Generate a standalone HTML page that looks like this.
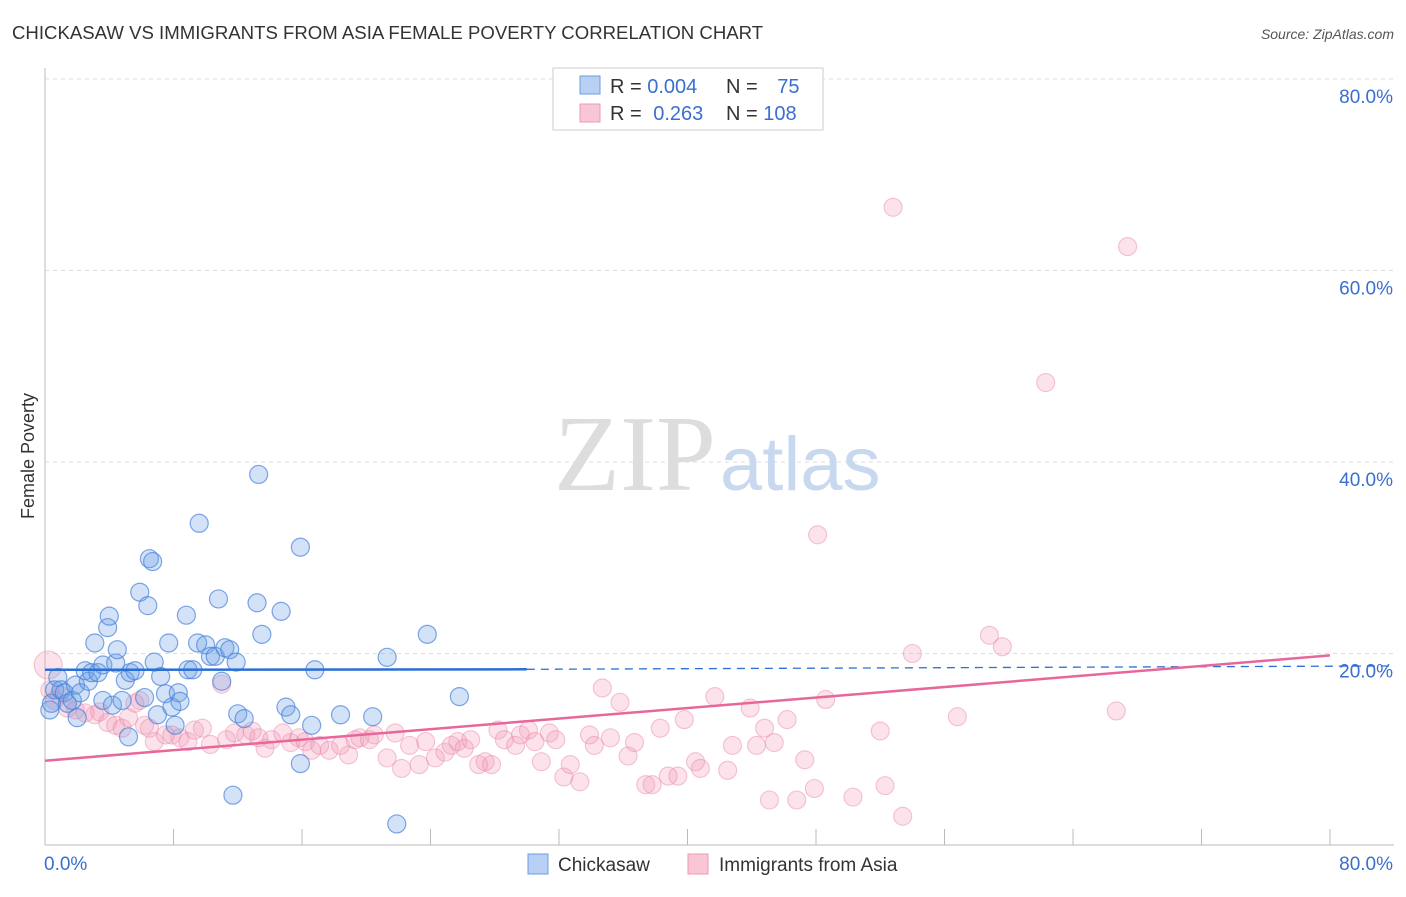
<!DOCTYPE html>
<html><head><meta charset="utf-8"><style>
body{margin:0;background:#fff;font-family:"Liberation Sans",sans-serif}
</style></head><body>
<svg width="1406" height="892" xmlns="http://www.w3.org/2000/svg" font-family="Liberation Sans, sans-serif">
<text x="12" y="39" font-size="18.6" fill="#333">CHICKASAW VS IMMIGRANTS FROM ASIA FEMALE POVERTY CORRELATION CHART</text>
<text x="1394" y="39" font-size="14" fill="#555" font-style="italic" text-anchor="end">Source: ZipAtlas.com</text>
<g id="grid"></g>
<text x="716" y="490" font-size="108" fill="#ddd" text-anchor="end" font-family="Liberation Serif, serif">ZIP</text>
<text x="720" y="490" font-size="76" fill="#c8d8ef">atlas</text>
<text x="34" y="456" font-size="18" fill="#333" text-anchor="middle" transform="rotate(-90 34 456)">Female Poverty</text>
<g id="marks"></g>
<g>
<rect x="553" y="68" width="270" height="62" fill="#fff" stroke="#ccc"/>
<rect x="580" y="76" width="20" height="18" fill="#b8d0f3" stroke="#6d9de0"/>
<rect x="580" y="104" width="20" height="18" fill="#f8c6d5" stroke="#ee9ab5"/>
<text x="610" y="93" font-size="20" fill="#333">R = <tspan fill="#3a6fd0">0.004</tspan></text>
<text x="726" y="93" font-size="20" fill="#333">N = <tspan fill="#3a6fd0" dx="14">75</tspan></text>
<text x="610" y="120" font-size="20" fill="#333">R = <tspan fill="#3a6fd0" dx="6">0.263</tspan></text>
<text x="726" y="120" font-size="20" fill="#333">N = <tspan fill="#3a6fd0">108</tspan></text>
</g>
<g>
<rect x="528" y="854" width="20" height="20" fill="#b8d0f3" stroke="#6d9de0"/>
<text x="558" y="871" font-size="19" fill="#333">Chickasaw</text>
<rect x="688" y="854" width="20" height="20" fill="#f8c6d5" stroke="#ee9ab5"/>
<text x="719" y="871" font-size="19" fill="#333">Immigrants from Asia</text>
</g>
</svg>
<script>
const yTicks=[20,40,60,80];
const xTickLabels=["0.0%","80.0%"];
const blueX=[0.3,0.4,0.6,0.8,1.0,1.2,1.4,1.7,1.9,2.0,2.2,2.5,2.7,2.9,3.1,3.3,3.6,3.6,3.9,4.0,4.2,4.4,4.5,4.8,5.0,5.2,5.3,5.6,5.9,6.2,6.4,6.5,6.7,6.8,7.0,7.2,7.5,7.7,7.9,8.1,8.3,8.4,8.8,8.9,9.2,9.5,9.6,10.0,10.3,10.6,10.8,11.0,11.2,11.5,11.7,11.9,12.0,12.4,13.2,13.3,13.5,14.7,15.0,15.3,15.9,15.9,16.6,16.8,18.4,20.4,21.3,21.9,23.8,25.8];
const blueY=[14.1,14.8,16.2,17.5,16.2,15.9,14.8,15.1,16.7,13.3,15.9,18.2,17.1,18.0,21.1,18.0,18.8,15.1,22.7,23.9,14.6,19.0,20.4,15.1,17.2,11.3,18.0,18.2,26.4,15.4,25.0,29.9,29.6,19.1,13.6,17.6,15.8,21.1,14.4,12.5,15.9,15.0,24.0,18.3,18.3,21.1,33.6,20.9,19.7,19.7,25.7,17.1,20.6,20.4,5.2,19.1,13.7,13.2,25.3,38.7,22.0,24.4,14.4,13.6,8.5,31.1,12.5,18.3,13.6,13.4,19.6,2.2,22.0,15.5];
const pinkX=[0.2,0.3,0.6,0.9,1.4,1.9,2.5,3.1,3.4,3.9,4.4,4.8,5.2,5.6,5.9,6.2,6.5,6.8,7.5,7.9,8.4,8.9,9.3,9.8,10.3,11.0,11.3,11.8,12.5,12.9,13.3,13.7,14.1,14.8,15.3,15.8,16.2,16.6,17.1,17.7,18.4,18.9,19.3,19.6,20.2,20.5,21.3,21.8,22.2,22.7,23.3,23.7,24.3,24.9,25.3,25.7,26.1,26.5,27.0,27.4,27.8,28.2,28.6,29.3,29.6,30.1,30.5,30.9,31.4,31.8,32.3,32.7,33.3,33.9,34.2,34.7,35.2,35.8,36.3,36.7,37.4,37.8,38.3,38.8,39.4,39.8,40.5,40.8,41.7,42.5,42.8,43.9,44.3,44.8,45.4,46.2,45.1,46.8,47.3,47.9,48.1,48.6,50.3,52.0,52.3,52.8,53.4,54.0,56.8,58.8,59.6,62.3,66.7,67.4];
const pinkY=[18.8,16.2,15.1,15.7,14.3,14.1,13.8,13.6,13.9,12.8,12.5,12.2,13.3,14.8,15.1,12.5,12.2,10.8,11.5,11.5,11.2,10.8,12.0,12.2,10.5,16.8,11.0,11.7,11.5,11.9,11.2,10.1,11.0,11.7,10.7,11.2,10.8,9.9,10.4,9.9,10.4,9.4,11.0,11.2,11.0,11.5,9.1,11.7,8.0,10.4,8.4,10.8,9.1,9.7,10.4,10.8,10.1,11.0,8.4,8.7,8.4,12.0,11.0,10.4,11.5,12.0,10.8,8.7,11.7,11.0,7.1,8.4,6.6,11.5,10.4,16.4,11.2,14.9,9.3,10.7,6.3,6.3,12.2,7.2,7.2,13.1,8.7,8.0,15.5,7.8,10.4,14.3,10.4,12.2,10.7,13.1,4.7,4.7,8.9,5.9,32.4,15.2,5.0,11.9,6.2,66.6,3.0,20.0,13.4,21.9,20.7,48.3,14.0,62.5];
const NS='http://www.w3.org/2000/svg';
const X=v=>45+v/80*1285, Y=v=>845-v/20*191.5;
function mk(t,a,p){const e=document.createElementNS(NS,t);for(const k in a)e.setAttribute(k,a[k]);p.appendChild(e);return e;}
const g=document.getElementById('grid');
mk('line',{x1:45,y1:68,x2:45,y2:845,stroke:'#bbb'},g);
mk('line',{x1:45,y1:845,x2:1394,y2:845,stroke:'#bbb'},g);
for(let i=0;i<=10;i++){const x=X(i*8);mk('line',{x1:x,y1:845,x2:x,y2:829,stroke:'#bbb'},g);}
yTicks.forEach(v=>{mk('line',{x1:45,y1:Y(v),x2:1394,y2:Y(v),stroke:'#ddd','stroke-dasharray':'4,4'},g);
const t=mk('text',{x:1393,y:Y(v)+24,'font-size':19,fill:'#3a6fd0','text-anchor':'end'},g);t.textContent=v.toFixed(1)+'%';

});
const t0=mk('text',{x:44,y:870,'font-size':19,fill:'#3a6fd0'},g);t0.textContent=xTickLabels[0];


const t1=mk('text',{x:1393,y:870,'font-size':19,fill:'#3a6fd0','text-anchor':'end'},g);t1.textContent=xTickLabels[1];


const m=document.getElementById('marks');
pinkX.forEach((v,i)=>{const c=mk('circle',{cx:X(v),cy:Y(pinkY[i]),r:i==0?14:9,fill:'rgba(242,150,182,0.28)',stroke:'rgba(236,140,172,0.5)','stroke-width':1.1},m);

});
blueX.forEach((v,i)=>{const c=mk('circle',{cx:X(v),cy:Y(blueY[i]),r:9,fill:'rgba(110,160,230,0.3)',stroke:'rgba(70,130,220,0.7)','stroke-width':1.2},m);

});
let l=mk('line',{x1:X(0),y1:Y(18.3),x2:X(30),y2:Y(18.35),stroke:'#2a6fd6','stroke-width':2.5},m);


l=mk('line',{x1:X(30),y1:Y(18.35),x2:X(84),y2:Y(18.7),stroke:'#2a6fd6','stroke-width':1.3,'stroke-dasharray':'8,6'},m);


l=mk('line',{x1:X(0),y1:Y(8.8),x2:X(80),y2:Y(19.8),stroke:'#e8679a','stroke-width':2.5},m);


</script>
</body></html>
